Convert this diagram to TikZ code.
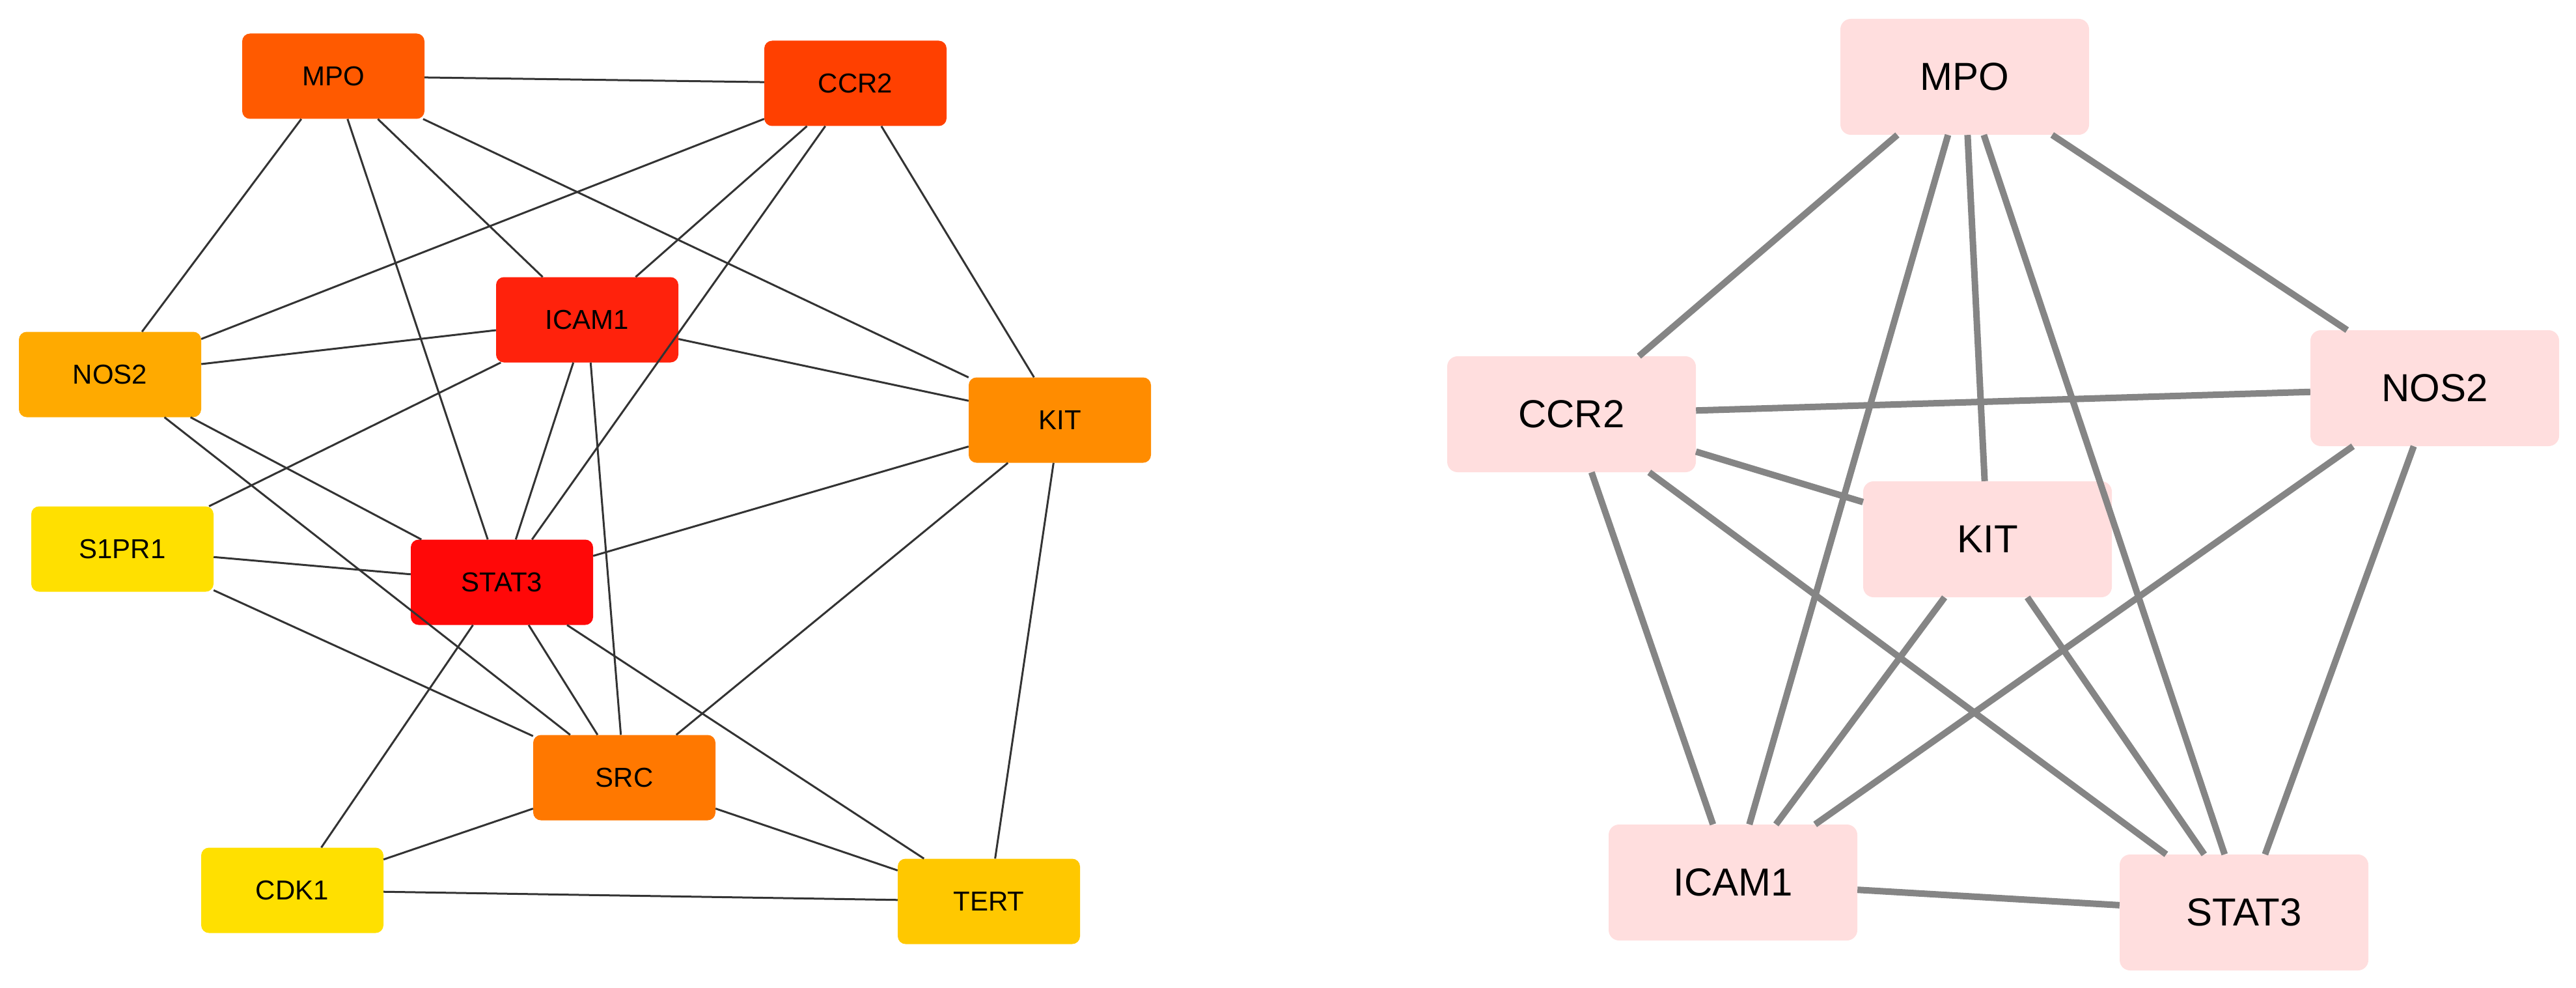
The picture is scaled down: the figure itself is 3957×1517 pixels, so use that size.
\documentclass[tikz,border=0pt]{standalone}
\usepackage{fontspec}
\setmainfont{Liberation Sans}
\begin{document}
\begin{tikzpicture}[x=1pt,y=-1pt,
  lnode/.style={rectangle,rounded corners=12pt,minimum width=280pt,minimum height=131pt,inner sep=0pt,font=\fontsize{42}{50}\selectfont},
  rnode/.style={rectangle,rounded corners=16pt,minimum width=382pt,minimum height=178pt,inner sep=0pt,fill=rpink,font=\fontsize{60}{72}\selectfont},
  ledge/.style={draw=black!80,line width=3pt},
  redge/.style={draw=rgray,line width=10pt}]
\definecolor{rpink}{HTML}{FFDEDE}
\definecolor{rgray}{HTML}{858585}
\useasboundingbox (0,0) rectangle (3957,1517);
% left graph
\node[lnode,fill={rgb,255:red,255;green,90;blue,0}] (mpo) at (512,117) {MPO};
\node[lnode,fill={rgb,255:red,255;green,64;blue,0}] (ccr2) at (1314,128) {CCR2};
\node[lnode,fill={rgb,255:red,255;green,34;blue,12}] (icam) at (902,491) {ICAM1};
\node[lnode,fill={rgb,255:red,255;green,170;blue,0}] (nos2) at (169,575) {NOS2};
\node[lnode,fill={rgb,255:red,255;green,140;blue,0}] (kit) at (1628,645) {KIT};
\node[lnode,fill={rgb,255:red,255;green,224;blue,0}] (s1pr1) at (188,843) {S1PR1};
\node[lnode,fill={rgb,255:red,255;green,8;blue,8}] (stat3) at (771,894) {STAT3};
\node[lnode,fill={rgb,255:red,255;green,120;blue,0}] (src) at (959,1194) {SRC};
\node[lnode,fill={rgb,255:red,255;green,224;blue,0}] (cdk1) at (449,1367) {CDK1};
\node[lnode,fill={rgb,255:red,255;green,200;blue,0}] (tert) at (1519,1384) {TERT};
\begin{scope}[on background layer/.try]
\end{scope}
\foreach \a/\b in {mpo/ccr2,mpo/nos2,mpo/stat3,mpo/icam,mpo/kit,ccr2/nos2,ccr2/icam,ccr2/stat3,ccr2/kit,
  icam/nos2,icam/kit,icam/s1pr1,icam/stat3,icam/src,nos2/stat3,nos2/src,kit/stat3,kit/src,kit/tert,
  s1pr1/stat3,s1pr1/src,stat3/src,stat3/cdk1,stat3/tert,src/cdk1,src/tert,cdk1/tert}
  \draw[ledge] (\a) -- (\b);
% right graph
\node[rnode] (rmpo) at (3018,118) {MPO};
\node[rnode] (rccr2) at (2414,636) {CCR2};
\node[rnode] (rnos2) at (3740,596) {NOS2};
\node[rnode] (rkit) at (3053,828) {KIT};
\node[rnode] (ricam) at (2662,1355) {ICAM1};
\node[rnode] (rstat3) at (3447,1401) {STAT3};
\foreach \a/\b in {rmpo/rccr2,rmpo/ricam,rmpo/rkit,rmpo/rstat3,rmpo/rnos2,rccr2/rnos2,rccr2/rkit,rccr2/ricam,
  rccr2/rstat3,rnos2/ricam,rnos2/rstat3,rkit/ricam,rkit/rstat3,ricam/rstat3}
  \draw[redge] (\a) -- (\b);
\end{tikzpicture}
\end{document}
